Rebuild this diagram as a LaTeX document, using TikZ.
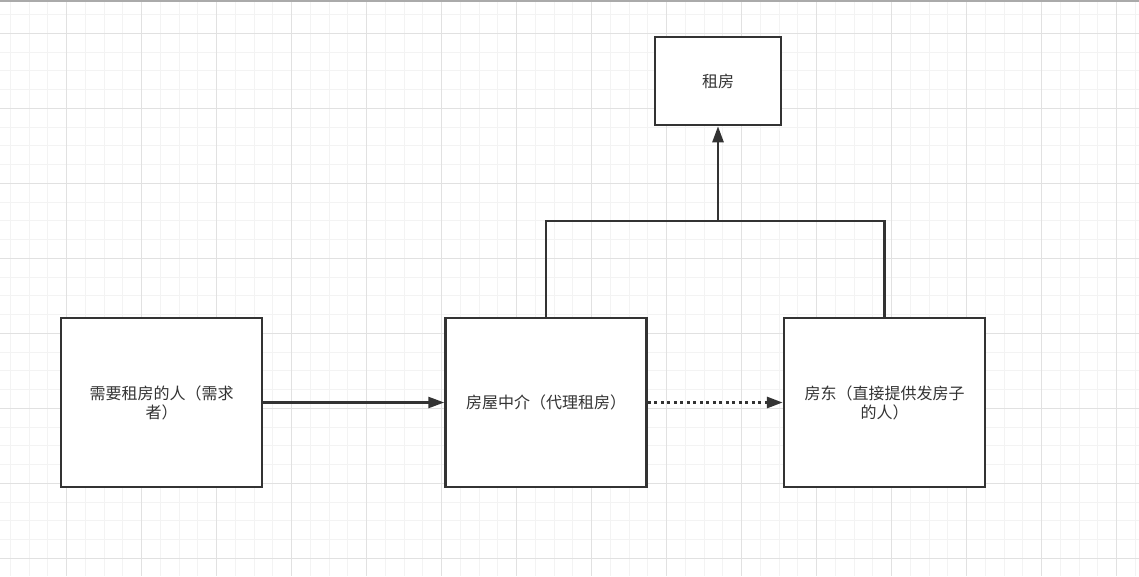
\documentclass[tikz,border=0pt]{standalone}
\usepackage{fontspec}
\usepackage{tikz}
\usetikzlibrary{arrows.meta, positioning, calc}
\newfontfamily\cjkfont{Noto Sans CJK SC}
\definecolor{LineDark}{RGB}{51,51,51}
\definecolor{GridMinor}{RGB}{243,243,243}
\definecolor{GridMajor}{RGB}{225,225,225}
\definecolor{FrameTop}{RGB}{170,170,170}
\tikzset{
  box/.style={draw=LineDark, line width=2.5pt, fill=white, align=center,
    text=LineDark, font=\cjkfont\fontsize{16}{19}\selectfont, inner sep=0pt},
  link/.style={draw=LineDark, line width=2.5pt},
  tip/.style={-{Triangle[length=16pt,width=11pt]}}
}

\begin{document}
\begin{tikzpicture}[x=1pt,y=-1pt]
  \useasboundingbox (0,0) rectangle (1139,576);
  \fill[white] (0,0) rectangle (1139,576);
  % grid
  \foreach \j in {1,...,61}
    \draw[GridMinor,line width=1pt] ({-8.33+18.75*\j},0) -- ++(0,576);
  \foreach \j in {1,...,31}
    \draw[GridMinor,line width=1pt] (0,{-4.17+18.75*\j}) -- ++(1139,0);
  \foreach \j in {1,...,15}
    \draw[GridMajor,line width=1pt] ({-8.33+75*\j},0) -- ++(0,576);
  \foreach \j in {0,...,7}
    \draw[GridMajor,line width=1pt] (0,{33.33+75*\j}) -- ++(1139,0);
  \draw[FrameTop,line width=1.2pt] (0,1) -- (1139,1);

  % boxes
  \node[box, minimum width=126pt, minimum height=88pt] (rent) at (718,81) {租房};
  \node[box, minimum width=201pt, minimum height=169pt] (tenant) at (161.5,402.5)
    {需要租房的人（需求\\者）};
  \node[box, minimum width=201pt, minimum height=169pt] (agent) at (546,402.5)
    {房屋中介（代理租房）};
  \node[box, minimum width=201pt, minimum height=169pt] (landlord) at (884.5,402.5)
    {房东（直接提供发房子\\的人）};
  \coordinate (join) at (718,221);

  % connectors
  \draw[link,tip] (tenant.east) -- (agent.west);
  \draw[link,tip,line width=3pt,dash pattern=on 3pt off 3.5pt]
    (agent.east) -- (landlord.west);
  \draw[link] (agent.north) |- (join) -| (landlord.north);
  \draw[link,tip] (join) -- (rent.south);
\end{tikzpicture}
\end{document}
